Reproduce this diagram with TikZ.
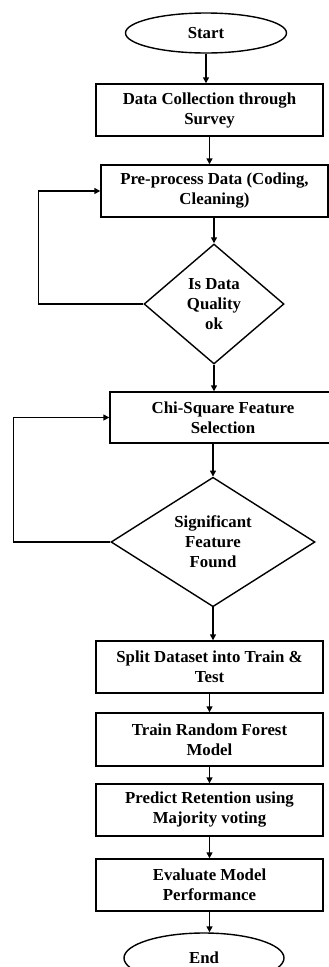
\documentclass[tikz,border=0pt]{standalone}
\usepackage{fontspec}
\setmainfont{Liberation Serif}
\usetikzlibrary{shapes.geometric, arrows.meta, positioning}

\begin{document}
\begin{tikzpicture}[x=1pt, y=-1pt, >={Triangle[length=6pt,width=6pt]}, line width=1.4pt,
        font=\fontsize{16.8}{20}\selectfont\bfseries,
        proc/.style={rectangle, draw, minimum width=227pt, minimum height=52pt, align=center, inner sep=2pt},
        term/.style={ellipse, draw, minimum width=161pt, minimum height=40pt, inner sep=0pt},
        decide/.style={diamond, draw, align=center, inner sep=0pt}]
        \clip (0,0) rectangle (329,967);

        \node at (206,33) [term] (start) {Start};
        \node at (209.5,110) [proc] (collect) {Data Collection through\\Survey};
        \node at (214.5,191) [proc] (preproc) {Pre-process Data (Coding,\\Cleaning)};
        \node at (214,304) [decide, minimum width=140pt, minimum height=120pt] (quality) {Is Data\\Quality\\ok};

        \node at (223,417.5) [proc, minimum width=226pt, minimum height=51pt] (chisq) {Chi-Square Feature\\Selection};
        \node at (213,542) [decide, minimum width=204pt, minimum height=128pt] (signif) {Significant\\Feature\\Found};

        \node at (209.5,667) [proc] (split) {Split Dataset into Train \&\\Test};
        \node at (209.5,739.5) [proc, minimum height=53pt] (train) {Train Random Forest\\Model};
        \node at (209.5,810) [proc] (predict) {Predict Retention using\\Majority voting};
        \node at (209.5,885) [proc] (evaluate) {Evaluate Model\\Performance};
        \node at (204,958) [term, minimum width=160pt, minimum height=50pt] (end) {End};

        % main flow
        \draw[->] (start.south) -- (start.south |- collect.north);
        \draw[->] (collect.south) -- (collect.south |- preproc.north);
        \draw[->] (quality.north |- preproc.south) -- (quality.north);
        \draw[->] (quality.south) -- (quality.south |- chisq.north);
        \draw[->] (signif.north |- chisq.south) -- (signif.north);
        \draw[->] (signif.south) -- (signif.south |- split.north);
        \draw[->] (split.south) -- (split.south |- train.north);
        \draw[->] (train.south) -- (train.south |- predict.north);
        \draw[->] (predict.south) -- (predict.south |- evaluate.north);
        \draw[->] (evaluate.south) -- (evaluate.south |- end.north);

        % loops back
        \draw[->] (quality.west) -- ++(-105,0) |- (preproc.west);
        \draw[->] (signif.west) -- ++(-97,0) |- (chisq.west);
    \end{tikzpicture}
\end{document}
